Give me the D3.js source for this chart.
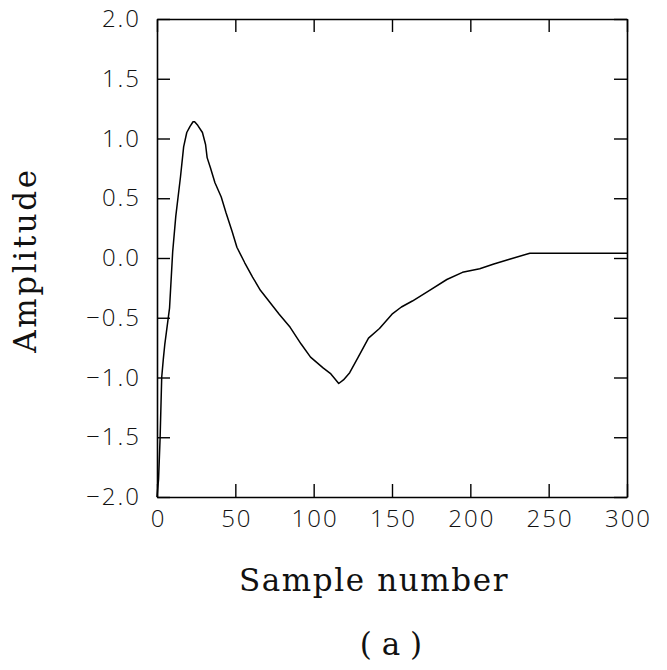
<!DOCTYPE html>
<html>
<head>
<meta charset="utf-8">
<script src="https://cdn.jsdelivr.net/npm/d3@7"></script>
<style>
  body { margin: 0; background: #fff; }
  .tick text { font-family: "Open Sans", sans-serif; font-weight: 300; font-size: 24px; fill: #111; letter-spacing: 2px; }
  .title { font-family: "DejaVu Serif", serif; font-size: 31px; fill: #111; }
</style>
</head>
<body>
<div id="chart"></div>
<script>
"use strict"

// sample index / amplitude
let samples = [0, 1, 2, 3, 4, 5, 6, 8, 10, 12, 15, 17, 19, 21, 23, 24, 26, 29, 31, 32, 34, 37, 41, 44, 48, 51,
    56, 61, 66, 72, 78, 85, 92, 98, 106, 111, 116, 119, 123, 128, 135, 142, 150, 156, 163, 174, 185, 195,
    206, 215, 225, 238, 260, 280, 300];
let amplitude = [-2.0, -1.85, -1.5, -1.0, -0.85, -0.72, -0.62, -0.42, 0.05, 0.35, 0.68, 0.93, 1.05, 1.10, 1.14, 1.14,
    1.11, 1.05, 0.95, 0.84, 0.76, 0.63, 0.51, 0.38, 0.22, 0.09, -0.04, -0.16, -0.27, -0.37, -0.47, -0.58, -0.72,
    -0.83, -0.92, -0.97, -1.05, -1.02, -0.96, -0.84, -0.67, -0.59, -0.47, -0.41, -0.36, -0.27, -0.18, -0.12,
    -0.09, -0.05, -0.01, 0.04, 0.04, 0.04, 0.04];

let xTicks = [0, 50, 100, 150, 200, 250, 300];
let yTicks = [-2.0, -1.5, -1.0, -0.5, 0.0, 0.5, 1.0, 1.5, 2.0];

let width = 667, height = 670;
let margin = { left: 157, right: 40, top: 19, bottom: 173 };

let svg = d3.select("#chart").append("svg")
    .attr("width", width)
    .attr("height", height);

let x = d3.scaleLinear()
    .domain([0, 300])
    .range([margin.left, width - margin.right]);

let y = d3.scaleLinear()
    .domain([-2, 2])
    .range([height - margin.bottom, margin.top]);

let fmt = d3.format(".1f");

function styleAxis(g) {
    g.select(".domain").style("stroke", "#000").style("stroke-width", "1.6px");
    g.selectAll(".tick line").style("stroke", "#000").style("stroke-width", "1.4px");
}

// bottom and left carry labels, ticks point inward
svg.append("g")
    .attr("transform", "translate(0," + y(-2) + ")")
    .call(d3.axisBottom(x).tickValues(xTicks).tickSizeInner(-13).tickSizeOuter(0).tickPadding(11))
    .call(styleAxis)
    .call(g => g.selectAll(".tick text").attr("dy", "0.8em").attr("dx", "1px"));

svg.append("g")
    .attr("transform", "translate(" + x(0) + ",0)")
    .call(d3.axisLeft(y).tickValues(yTicks).tickFormat(d => fmt(d)).tickSizeInner(-13).tickSizeOuter(0).tickPadding(16))
    .call(styleAxis);

svg.append("g")
    .attr("transform", "translate(0," + y(2) + ")")
    .call(d3.axisTop(x).tickValues(xTicks).tickSizeInner(-13).tickSizeOuter(0).tickFormat(""))
    .call(styleAxis);

svg.append("g")
    .attr("transform", "translate(" + x(300) + ",0)")
    .call(d3.axisRight(y).tickValues(yTicks).tickSizeInner(-13).tickSizeOuter(0).tickFormat(""))
    .call(styleAxis);

// waveform
let lineFunc = d3.line()
    .x((d, i) => x(samples[i]))
    .y(d => y(d));

svg.append("path")
    .attr("d", lineFunc(amplitude))
    .style("fill", "none")
    .style("stroke", "#000")
    .style("stroke-width", "1.5px")
    .style("stroke-linejoin", "round");

// titles
svg.append("text")
    .attr("class", "title")
    .attr("x", 374)
    .attr("y", 591)
    .attr("text-anchor", "middle")
    .style("letter-spacing", "1.6px")
    .text("Sample number");

svg.append("text")
    .attr("class", "title")
    .attr("transform", "translate(36,260) rotate(-90)")
    .attr("text-anchor", "middle")
    .style("letter-spacing", "2.6px")
    .text("Amplitude");

svg.append("text")
    .attr("class", "title")
    .attr("x", 391)
    .attr("y", 655)
    .attr("text-anchor", "middle")
    .text("( a )");
</script>
</body>
</html>
